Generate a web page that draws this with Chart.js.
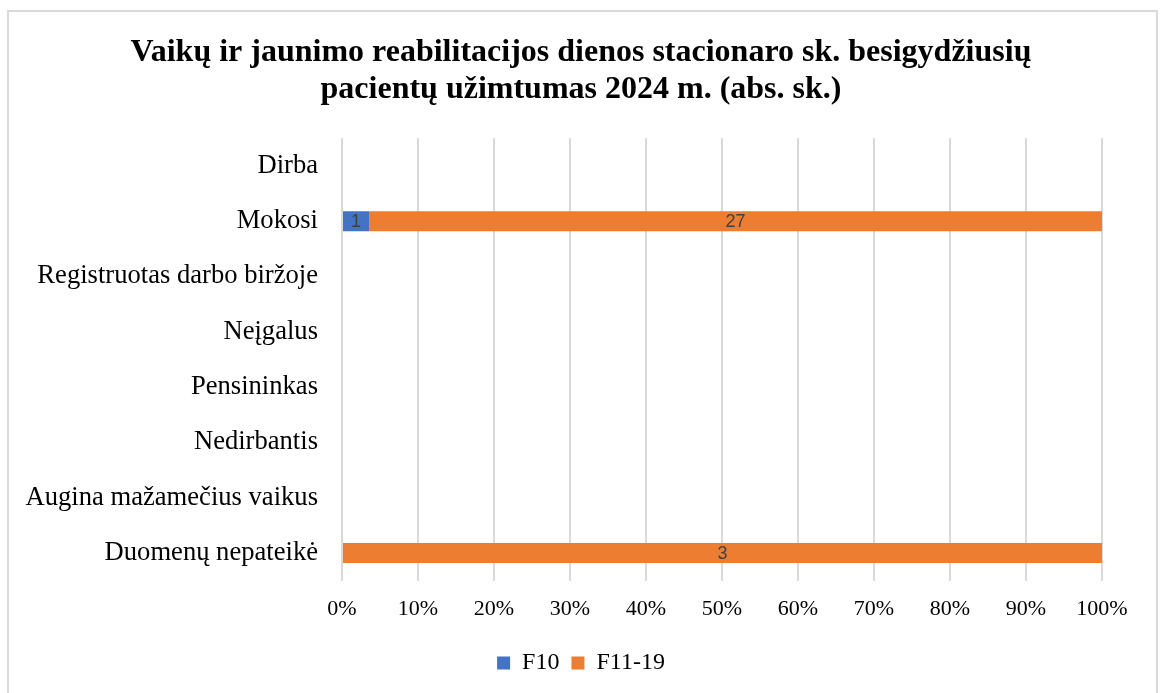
<!DOCTYPE html>
<html lang="lt">
<head>
    <meta charset="UTF-8">
    <title>Užimtumas 2024</title>
    <script src="https://cdn.jsdelivr.net/npm/chart.js"></script>
    <style>
        html, body {
            margin: 0;
            padding: 0;
            background: #fff;
            overflow: hidden;
        }
        .frame {
            position: absolute;
            left: 7px;
            top: 10px;
            width: 1151px;
            height: 720px;
            border: 2px solid #d9d9d9;
            box-sizing: border-box;
        }
        .chart-box {
            position: absolute;
            left: 0;
            top: 0;
            width: 1162px;
            height: 693px;
        }
    </style>
</head>
<body>
    <div class="frame"></div>
    <div class="chart-box">
        <canvas id="chart"></canvas>
    </div>
    <script>
        const categories = [
            'Dirba',
            'Mokosi',
            'Registruotas darbo biržoje',
            'Neįgalus',
            'Pensininkas',
            'Nedirbantis',
            'Augina mažamečius vaikus',
            'Duomenų nepateikė'
        ];
        const f10 = [0, 1, 0, 0, 0, 0, 0, 0];
        const f11_19 = [0, 27, 0, 0, 0, 0, 0, 3];
        const xTicks = [0, 10, 20, 30, 40, 50, 60, 70, 80, 90, 100];

        // 100% stacked: share of each row total
        const totals = categories.map((c, i) => f10[i] + f11_19[i]);
        const share = arr => arr.map((v, i) => totals[i] ? v / totals[i] * 100 : 0);

        const serif = "'Liberation Serif', 'Times New Roman', serif";

        // labels with the raw counts in the middle of each segment
        const countLabels = {
            id: 'countLabels',
            afterDatasetsDraw(chart) {
                const ctx = chart.ctx;
                ctx.save();
                ctx.font = "18px 'Liberation Sans', Arial, sans-serif";
                ctx.fillStyle = '#404040';
                ctx.textAlign = 'center';
                ctx.textBaseline = 'middle';
                chart.data.datasets.forEach((ds, di) => {
                    chart.getDatasetMeta(di).data.forEach((bar, i) => {
                        const raw = ds.raw[i];
                        if (!raw) return;
                        const cx = (bar.x + bar.base) / 2;
                        ctx.fillText(String(raw), cx, bar.y + 1);
                    });
                });
                ctx.restore();
            }
        };

        new Chart(document.getElementById('chart'), {
            type: 'bar',
            data: {
                labels: categories,
                datasets: [
                    {
                        label: 'F10',
                        data: share(f10),
                        raw: f10,
                        backgroundColor: '#4472C4',
                        categoryPercentage: 0.36,
                        barPercentage: 1
                    },
                    {
                        label: 'F11-19',
                        data: share(f11_19),
                        raw: f11_19,
                        backgroundColor: '#ED7D31',
                        categoryPercentage: 0.36,
                        barPercentage: 1
                    }
                ]
            },
            options: {
                indexAxis: 'y',
                responsive: true,
                maintainAspectRatio: false,
                animation: false,
                layout: {
                    padding: { left: 0, right: 0, top: 12, bottom: 8 }
                },
                plugins: {
                    title: {
                        display: true,
                        text: [
                            'Vaikų ir jaunimo reabilitacijos dienos stacionaro sk. besigydžiusių',
                            'pacientų užimtumas 2024 m. (abs. sk.)'
                        ],
                        color: '#000',
                        font: { family: serif, size: 32, weight: 'bold', lineHeight: 1.16 },
                        padding: { top: 22, bottom: 30 }
                    },
                    legend: {
                        position: 'bottom',
                        labels: {
                            color: '#000',
                            font: { family: serif, size: 24 },
                            boxWidth: 13,
                            boxHeight: 13,
                            padding: 12
                        }
                    },
                    tooltip: { enabled: false }
                },
                scales: {
                    x: {
                        stacked: true,
                        min: 0,
                        max: 100,
                        afterBuildTicks(scale) {
                            scale.ticks = xTicks.map(v => ({ value: v }));
                        },
                        afterFit(scale) {
                            scale.height += 2;
                        },
                        ticks: {
                            callback: v => v + '%',
                            color: '#000',
                            font: { family: serif, size: 22 },
                            padding: 15,
                            maxRotation: 0
                        },
                        grid: {
                            color: '#d9d9d9',
                            lineWidth: 2,
                            drawTicks: false
                        },
                        border: { display: false }
                    },
                    y: {
                        stacked: true,
                        afterFit(scale) {
                            scale.width = 342;
                        },
                        ticks: {
                            color: '#000',
                            font: { family: serif, size: 26.6 },
                            padding: 24
                        },
                        grid: { display: false, drawTicks: false },
                        border: { display: false }
                    },
                    // empty right-hand margin so title and legend stay centred on the frame
                    spacer: {
                        axis: 'y',
                        type: 'category',
                        position: 'right',
                        afterFit(scale) {
                            scale.width = 60;
                        },
                        ticks: { display: false },
                        grid: { display: false, drawTicks: false },
                        border: { display: false }
                    }
                }
            },
            plugins: [countLabels]
        });
    </script>
</body>
</html>
